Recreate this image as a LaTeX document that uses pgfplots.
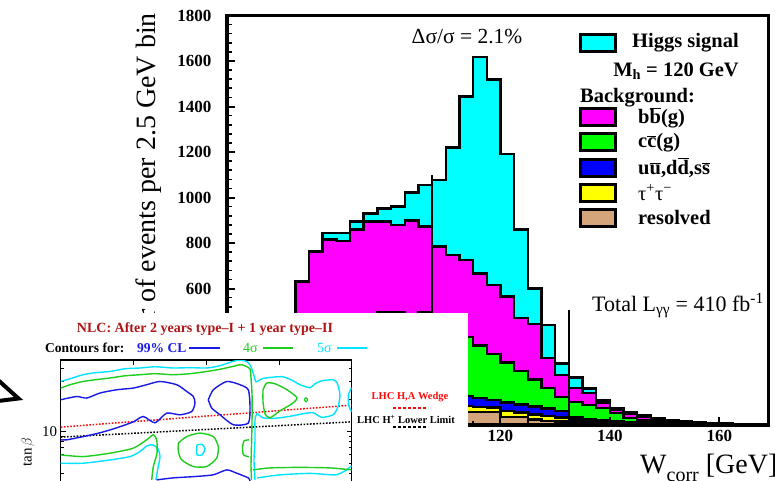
\documentclass[border=0pt]{standalone}
\usepackage{pgfplots}
\pgfplotsset{compat=1.18}
\usepackage{pgfplotstable}
\usepackage{fontspec}
\setmainfont{Liberation Serif}
\usetikzlibrary{arrows.meta}

\definecolor{hcyan}{RGB}{0,255,255}
\definecolor{hmag}{RGB}{255,0,255}
\definecolor{hgreen}{RGB}{0,255,0}
\definecolor{hblue}{RGB}{0,0,255}
\definecolor{hyel}{RGB}{255,255,0}
\definecolor{htan}{RGB}{212,165,122}
\definecolor{titred}{RGB}{175,20,20}
\definecolor{cblue}{RGB}{25,25,230}
\definecolor{cgreen}{RGB}{30,205,30}
\definecolor{ccyan}{RGB}{0,228,255}
\definecolor{lred}{RGB}{255,10,10}

\newcommand{\obar}[1]{$\overline{\mbox{#1}}$}

\pgfplotstableread{
x tot mag grn blu yel tan
82.5 630 630 300 120 80 55
85 762 762 350 130 88 60
87.5 843 815 390 140 95 65
90 843 808 420 145 100 68
92.5 894 860 450 150 102 70
95 930 894 475 152 104 70
97.5 952 894 497 152 104 70
100 960 879 497 150 102 70
102.5 1023 898 485 148 100 68
105 1055 872 497 145 98 66
107.5 1077 784 440 140 92 62
110 1220 747 415 135 88 60
112.5 1443 725 387 128 84 58
115 1617 667 350 119 80 58
117.5 1519 615 312 110 76 58
120 1191 564 275 100 62 35
122.5 860 470 237 91 56 35
125 601 445 200 82 46 25
127.5 440 294 162 72 40 18
130 271 220 123 62 34 15
132.5 208 163 101 32 22 12
135 161 141 88 26 18 10
137.5 110 100 75 20 14 8
140 75 68 52 15 10 6
142.5 58 50 30 12 8 5
145 44 36 22 10 6 4
147.5 28 22 15 8 5 3
150 22 17 12 6 4 2.5
152.5 15 12 8 5 3 2
155 12 9 6 4 2.5 1.5
157.5 8 6 4 3 2 1
160 6 5 3 2 1.5 1
162.5 4 3 2 1.5 1 0.5
165 3 2 1.5 1 0.5 0.3
167.5 2 1.5 1 0.5 0.3 0.2
170 2 1.5 1 0.5 0.3 0.2
}\hist

\begin{document}
\begin{tikzpicture}[x=1pt,y=1pt]
\begin{axis}[
  at={(227pt,55pt)}, anchor=south west, scale only axis,
  width=541.5pt, height=409.5pt,
  xmin=70, xmax=169, ymin=0, ymax=1800,
  xtick={80,100,120,140,160}, xticklabels={,,120,140,160},
  minor x tick num=3,
  ytick={0,200,...,1800}, yticklabels={,,,600,800,1000,1200,1400,1600,1800},
  minor y tick num=4,
  tick pos=left, tick align=inside,
  major tick length=8pt, minor tick length=4.5pt,
  tick style={black, line width=2pt},
  minor tick style={line width=1.6pt},
  axis line style={line width=3.5pt},
  axis on top,
  tick label style={font=\fontsize{17}{17}\selectfont\bfseries},
  yticklabel style={xshift=-12pt},
  xticklabel style={yshift=-2pt},
]
\addplot[const plot, draw=black, line width=2.5pt, fill=hcyan] table[x=x,y=tot]{\hist} \closedcycle;
\addplot[const plot, draw=black, line width=2.5pt, fill=hmag] table[x=x,y=mag]{\hist} \closedcycle;
\addplot[const plot, draw=black, line width=2.5pt, fill=hgreen] table[x=x,y=grn]{\hist} \closedcycle;
\addplot[const plot, draw=black, line width=2.5pt, fill=hblue] table[x=x,y=blu]{\hist} \closedcycle;
\addplot[const plot, draw=black, line width=2.5pt, fill=hyel] table[x=x,y=yel]{\hist} \closedcycle;
\addplot[const plot, draw=black, line width=2.5pt, fill=htan] table[x=x,y=tan]{\hist} \closedcycle;
\addplot[black, line width=2.5pt] coordinates {(107.5,0) (107.5,1099)};
\addplot[black, line width=2pt] coordinates {(132.5,0) (132.5,505)};
\end{axis}

% axis labels
\node[rotate=90, anchor=base east, font=\fontsize{28}{28}\selectfont, inner sep=0pt] at (155,467) {Number of events per 2.5 GeV bin};
\node[anchor=base west, font=\fontsize{28}{28}\selectfont, inner sep=0pt] at (640,7) {W\raisebox{-8pt}{\fontsize{20}{20}\selectfont corr} [GeV]};

% annotations
\node[font=\fontsize{21.5}{21.5}\selectfont] at (467,443) {Δσ/σ = 2.1\%};
\node[anchor=base west, font=\fontsize{22}{22}\selectfont, inner sep=0pt] at (592,169) {Total L\textsubscript{γγ} = 410 fb\textsuperscript{-1}};

% legend
\begin{scope}[line width=3pt]
\draw[fill=hcyan] (580,428) rectangle (615,445);
\draw[fill=hmag] (580,354) rectangle (615,371);
\draw[fill=hgreen] (580,329) rectangle (615,346);
\draw[fill=hblue] (580,304) rectangle (615,321);
\draw[fill=hyel] (580,279) rectangle (615,296);
\draw[fill=htan] (580,254) rectangle (615,271);
\end{scope}
\begin{scope}[font=\fontsize{20.5}{20.5}\selectfont\bfseries, inner sep=0pt]
\node[anchor=west] at (632,437) {Higgs signal};
\node at (676,409) {M\textsubscript{h} = 120 GeV};
\node[anchor=west] at (580,382) {Background:};
\node[anchor=west] at (638,362.5) {b\obar{b}(g)};
\node[anchor=west] at (638,337.5) {c\obar{c}(g)};
\node[anchor=west] at (638,312.5) {u\obar{u},d\obar{d},s\obar{s}};
\node[anchor=west] at (638,287.5) {\mdseries τ\textsuperscript{+}τ\textsuperscript{−}};
\node[anchor=west] at (638,262.5) {resolved};
\end{scope}

% ---------------- inset ----------------
\fill[white] (0,0) rectangle (468,167);
\draw[line width=4pt, line join=miter] (-2,100) -- (18.5,81.5) -- (-2,79);

\begin{axis}[
  at={(60.7pt,-56.7pt)}, anchor=south west, scale only axis,
  width=291pt, height=176.7pt,
  xmin=200, xmax=600, ymin=0, ymax=1.68,
  xtick={300,400,500}, xticklabels={},
  ytick={1}, yticklabels={10},
  minor ytick={0.301,0.477,0.602,0.699,0.778,0.845,0.903,0.954,1.301,1.477,1.602},
  tick align=inside, major tick length=5pt, minor tick length=3pt,
  tick style={black, line width=0.8pt},
  axis line style={line width=1.2pt},
  yticklabel style={font=\fontsize{15}{15}\selectfont},
]
% red and black dotted lines
\addplot[lred, line width=1.5pt, dash pattern=on 1.6pt off 1.6pt] coordinates {(200,1.042) (600,1.251)};
\addplot[black, line width=1.5pt, dash pattern=on 1.6pt off 1.6pt] coordinates {(200,0.947) (600,1.092)};
% cyan 5 sigma
\addplot[ccyan, line width=1.4pt, smooth, tension=0.4] coordinates {
(200,1.476) (212.8,1.502) (230.7,1.540) (247.1,1.559) (267.8,1.571) (288.4,1.597) (309,1.604) (329.6,1.616) (354.4,1.604) (377.7,1.607) (401.1,1.604) (419,1.626) (436.8,1.667) (446.5,1.678) (456.1,1.664) (461.6,1.616) (465.7,1.530) (468.5,1.473) (476.7,1.502) (490.5,1.516) (505.6,1.521) (519.3,1.483) (528.9,1.445) (542.7,1.416) (549.6,1.454) (559.2,1.483) (574.3,1.492) (579.8,1.464) (583.9,1.350) (581.2,1.235) (574.3,1.159) (559.2,1.135) (546.8,1.178) (533.1,1.169) (515.2,1.145) (494.6,1.126) (478.1,1.130) (469.8,1.169) (467.1,1.111) (467.1,0.921) (465.7,0.730) (467.1,0.540)};
\addplot[ccyan, line width=1.4pt, smooth, tension=0.4] coordinates {
(200,0.699) (231.1,0.699) (267.8,0.730) (295.3,0.762) (309,0.810) (318.6,0.864) (326.9,0.873) (333.7,0.835) (336.5,0.759) (333.7,0.654) (331,0.540)};
\addplot[ccyan, line width=1.4pt, smooth, tension=0.4] coordinates {
(387.4,0.873) (394.2,0.878) (398.4,0.835) (394.2,0.778) (387.4,0.778) (386.7,0.826) (387.4,0.873)};
\addplot[ccyan, line width=1.4pt, smooth, tension=0.4] coordinates {
(470,0.559) (501.5,0.588) (542.7,0.602) (577.1,0.588) (590.8,0.626) (600,0.673)};
\addplot[ccyan, line width=1.4pt, smooth, tension=0.4] coordinates {
(600,1.416) (595.6,1.350) (595.6,1.254) (600,1.188)};
% green 4 sigma
\addplot[cgreen, line width=1.4pt, smooth, tension=0.4] coordinates {
(200,1.413) (212.8,1.445) (230.7,1.476) (247.1,1.492) (267.8,1.509) (288.4,1.530) (309,1.540) (329.6,1.550) (354.4,1.540) (377.7,1.550) (401.1,1.571) (419,1.592) (436.8,1.619) (448.8,1.635) (460,1.597) (461.6,1.511) (463,1.350) (463,1.111) (462.3,0.873) (461.6,0.683) (462.3,0.540)};
\addplot[cgreen, line width=1.4pt, smooth, tension=0.4] coordinates {
(200,0.778) (231.1,0.762) (267.8,0.794) (299.8,0.842) (318.2,0.921) (327.3,0.969) (332,0.921) (332.4,0.794) (327.3,0.667) (325.1,0.540)};
\addplot[cgreen, line width=1.4pt, smooth, tension=0.4] coordinates {
(361.7,0.890) (373.2,0.952) (391.5,0.985) (409.8,0.952) (416.6,0.857) (414.4,0.747) (400.7,0.667) (382.3,0.667) (366.3,0.730) (361.7,0.810) (361.7,0.890)};
\addplot[cgreen, line width=1.4pt, smooth, tension=0.4] coordinates {
(458.8,0.921) (452,0.910) (449.9,0.845) (451.3,0.778) (458.8,0.760)};
\addplot[cgreen, line width=1.4pt, smooth, tension=0.4] coordinates {
(478.1,1.397) (483.2,1.461) (494.6,1.454) (511.1,1.397) (524.8,1.321) (517.9,1.264) (501.5,1.197) (487.7,1.130) (480.8,1.169) (478.1,1.283) (478.1,1.397)};
\addplot[cgreen, line width=1.2pt, smooth, tension=0.4] coordinates {
(535.5,1.31) (537.2,1.322) (538.9,1.31) (538.9,1.294) (537.2,1.282) (535.5,1.294) (535.5,1.31)};
\addplot[cgreen, line width=1.4pt, smooth, tension=0.4] coordinates {
(464.3,0.635) (487.7,0.654) (528.9,0.659) (570.2,0.654) (600,0.635)};
% blue 99% CL
\addplot[cblue, line width=1.4pt, smooth, tension=0.4] coordinates {
(200,1.302) (222,1.333) (235.7,1.318) (254,1.366) (277,1.397) (299.8,1.413) (318.2,1.445) (336.5,1.476) (359.5,1.445) (373.2,1.381) (382.3,1.333) (384.6,1.270) (380.1,1.190) (364,1.159) (345.7,1.175) (329.6,1.083) (313.5,1.143) (299.8,1.092) (277,1.035) (254,0.988) (231.1,0.952) (208.2,0.921) (200,0.921)};
\addplot[cblue, line width=1.4pt, smooth, tension=0.4] coordinates {
(402.9,1.302) (409.8,1.397) (428.2,1.476) (446.5,1.445) (457.9,1.397) (460.2,1.238) (457.9,1.080) (437.3,1.064) (419,1.159) (407.6,1.223) (402.9,1.302)};
\addplot[cblue, line width=1.4pt, smooth, tension=0.4] coordinates {
(332,0.540) (354.4,0.559) (381.9,0.571) (409.4,0.588) (428.2,0.635) (441.9,0.604) (457.9,0.559) (460.2,0.530)};
\end{axis}

% inset texts
\node[font=\fontsize{14}{14}\selectfont\bfseries, text=titred] at (205,151) {NLC: After 2 years type--I + 1 year type--II};
\node[anchor=west, inner sep=0pt, font=\fontsize{13.5}{13.5}\selectfont\bfseries] at (45,132) {Contours for:};
\node[anchor=west, inner sep=0pt, font=\fontsize{13.5}{13.5}\selectfont\bfseries, text=cblue] at (137,132) {99\% CL};
\draw[cblue, line width=1.4pt] (189,132) -- (220,132);
\node[anchor=west, inner sep=0pt, font=\fontsize{14}{14}\selectfont, text=cgreen] at (243,132) {4σ};
\draw[cgreen, line width=1.4pt] (263,132) -- (293,132);
\node[anchor=west, inner sep=0pt, font=\fontsize{14}{14}\selectfont, text=ccyan] at (317,132) {5σ};
\draw[ccyan, line width=1.4pt] (337,132) -- (367,132);
\node[rotate=90, font=\fontsize{15}{15}\selectfont] at (28,28) {$\tan\beta$};
\node[font=\fontsize{10.5}{10.5}\selectfont\bfseries, text=lred] at (410,83) {LHC H,A Wedge};
\draw[lred, line width=1.2pt, dash pattern=on 3pt off 2pt] (393,72) -- (428,72);
\node[font=\fontsize{10.5}{10.5}\selectfont\bfseries] at (406,61) {LHC H\textsuperscript{+} Lower Limit};
\draw[black, line width=1.2pt, dash pattern=on 3pt off 2pt] (393,53) -- (428,53);

\pgfresetboundingbox
\useasboundingbox (0,0) rectangle (775,480);
\end{tikzpicture}
\end{document}
